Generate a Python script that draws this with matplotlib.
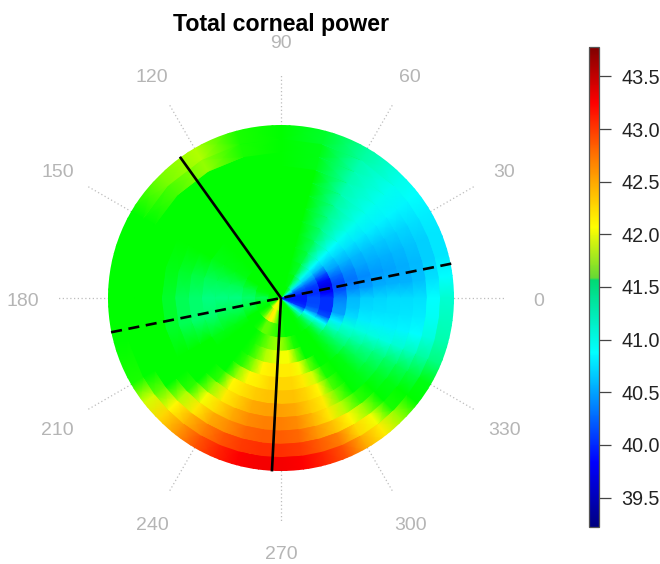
import numpy as np
import matplotlib
matplotlib.use('Agg')
import matplotlib.pyplot as plt
from matplotlib.colors import LinearSegmentedColormap, Normalize
from matplotlib.cm import ScalarMappable
from matplotlib.patches import Circle
from matplotlib.transforms import offset_copy

plt.rcParams['font.family'] = ['Liberation Sans', 'DejaVu Sans']

# chart values
angles = [0, 7.5, 15, 22.5, 30, 37.5, 45,
          60, 75, 90, 105, 120, 135, 150, 165, 180, 195, 210,
          217.5, 225, 232.5, 240, 247.5, 255, 262.5, 270, 277.5, 285,
          292.5, 300, 307.5, 315, 322.5, 330, 337.5, 345, 352.5]
ring_edges = [0, 1, 2, 3, 4, 5, 6, 7, 8, 9, 10, 11, 12, 13]
ring1 = [39.85, 39.85, 40.0, 40.2, 40.6, 41.0, 41.3,
         41.55, 41.55, 41.55, 41.55, 41.55, 41.55, 41.55, 41.55, 41.5, 41.55, 41.6,
         41.7, 41.9, 42.0, 42.05, 42.0, 41.95, 41.85, 41.7, 41.6, 41.55,
         41.55, 41.55, 41.5, 41.3, 41.0, 40.5, 40.0, 39.9, 39.85]
ring2 = [39.85, 39.85, 40.0, 40.1, 40.35, 40.7, 41.05,
         41.5, 41.55, 41.55, 41.55, 41.55, 41.55, 41.55, 41.5, 41.35, 41.5, 41.55,
         41.6, 41.7, 41.9, 42.1, 42.05, 41.9, 41.7, 41.6, 41.55, 41.55,
         41.55, 41.55, 41.5, 41.3, 41.0, 40.5, 40.0, 39.9, 39.85]
ring3 = [40.05, 39.95, 39.95, 40.05, 40.3, 40.65, 40.9,
         41.45, 41.55, 41.55, 41.55, 41.55, 41.55, 41.55, 41.4, 41.3, 41.4, 41.55,
         41.55, 41.55, 41.6, 41.75, 41.75, 41.7, 41.65, 41.6, 41.55, 41.55,
         41.55, 41.55, 41.5, 41.4, 41.15, 40.85, 40.3, 40.1, 40.05]
ring4 = [39.95, 39.75, 39.65, 39.8, 40.15, 40.55, 40.85,
         41.4, 41.55, 41.55, 41.55, 41.55, 41.55, 41.5, 41.35, 41.25, 41.35, 41.5,
         41.55, 41.55, 41.55, 41.6, 41.7, 41.8, 41.85, 41.85, 41.75, 41.6,
         41.55, 41.55, 41.55, 41.45, 41.2, 40.85, 40.1, 39.95, 39.95]
ring5 = [40.3, 40.1, 40.05, 40.2, 40.45, 40.62, 40.85,
         41.35, 41.55, 41.55, 41.55, 41.55, 41.55, 41.5, 41.35, 41.25, 41.35, 41.5,
         41.55, 41.55, 41.55, 41.6, 41.75, 41.9, 41.95, 42.0, 42.0, 41.8,
         41.55, 41.55, 41.55, 41.45, 41.3, 41.05, 40.8, 40.45, 40.4]
ring6 = [40.55, 40.35, 40.25, 40.35, 40.52, 40.68, 40.85,
         41.3, 41.55, 41.55, 41.55, 41.55, 41.55, 41.5, 41.35, 41.25, 41.3, 41.5,
         41.55, 41.55, 41.55, 41.65, 41.85, 42.05, 42.1, 42.1, 42.1, 42.0,
         41.75, 41.55, 41.55, 41.45, 41.3, 41.1, 40.95, 40.7, 40.6]
ring7 = [40.65, 40.42, 40.35, 40.45, 40.55, 40.72, 40.88,
         41.25, 41.55, 41.55, 41.55, 41.55, 41.55, 41.55, 41.4, 41.3, 41.3, 41.55,
         41.55, 41.55, 41.55, 41.85, 42.05, 42.1, 42.2, 42.2, 42.2, 42.1,
         41.95, 41.6, 41.55, 41.5, 41.35, 41.15, 40.95, 40.78, 40.7]
ring8 = [40.68, 40.5, 40.42, 40.5, 40.6, 40.75, 40.9,
         41.2, 41.55, 41.55, 41.55, 41.55, 41.55, 41.55, 41.45, 41.35, 41.35, 41.55,
         41.55, 41.55, 41.65, 42.05, 42.15, 42.25, 42.3, 42.3, 42.3, 42.2,
         42.05, 41.7, 41.55, 41.5, 41.35, 41.2, 40.95, 40.8, 40.72]
ring9 = [40.7, 40.52, 40.45, 40.52, 40.62, 40.78, 40.9,
         41.15, 41.55, 41.55, 41.55, 41.55, 41.55, 41.55, 41.5, 41.45, 41.45, 41.55,
         41.55, 41.55, 41.85, 42.1, 42.25, 42.4, 42.45, 42.45, 42.4, 42.25,
         42.1, 41.8, 41.55, 41.5, 41.4, 41.25, 40.95, 40.8, 40.73]
ring10 = [40.7, 40.52, 40.5, 40.55, 40.65, 40.8, 40.9,
          41.1, 41.55, 41.55, 41.55, 41.55, 41.55, 41.55, 41.55, 41.55, 41.55, 41.55,
          41.55, 41.65, 42.0, 42.2, 42.4, 42.55, 42.6, 42.6, 42.55, 42.35,
          42.12, 41.9, 41.65, 41.55, 41.45, 41.3, 41.0, 40.82, 40.75]
ring11 = [40.72, 40.58, 40.55, 40.6, 40.68, 40.82, 40.9,
          41.1, 41.5, 41.55, 41.55, 41.55, 41.55, 41.55, 41.55, 41.55, 41.55, 41.55,
          41.55, 41.9, 42.12, 42.4, 42.55, 42.7, 42.75, 42.75, 42.7, 42.5,
          42.3, 42.05, 41.85, 41.55, 41.5, 41.35, 41.05, 40.85, 40.77]
ring12 = [40.85, 40.72, 40.65, 40.65, 40.72, 40.82, 40.9,
          41.1, 41.5, 41.55, 41.6, 41.85, 41.7, 41.55, 41.55, 41.55, 41.55, 41.55,
          41.75, 42.05, 42.35, 42.6, 42.8, 42.9, 42.95, 42.95, 42.9, 42.75,
          42.6, 42.2, 42.0, 41.6, 41.55, 41.4, 41.15, 40.95, 40.88]
ring13 = [41.0, 40.85, 40.75, 40.75, 40.78, 40.85, 40.92,
          41.15, 41.45, 41.55, 41.6, 41.9, 41.8, 41.55, 41.55, 41.55, 41.55, 41.6,
          41.95, 42.2, 42.5, 42.8, 43.0, 43.15, 43.2, 43.2, 43.15, 43.0,
          42.8, 42.4, 42.1, 41.85, 41.55, 41.5, 41.25, 41.1, 41.05]
solid_angles = [125.6, 267.0]
dashed_angle = 11.4
spoke_angles = [0, 30, 60, 90, 120, 150, 180, 210, 240, 270, 300, 330]
bar_ticks = [39.5, 40.0, 40.5, 41.0, 41.5, 42.0, 42.5, 43.0, 43.5]
vmin, vmax = 39.22, 43.78

rings = np.array([ring1, ring2, ring3, ring4, ring5, ring6, ring7, ring8, ring9,
                  ring10, ring11, ring12, ring13])


def make_cmap(stops):
    return LinearSegmentedColormap.from_list(
        'cp', [((v - vmin) / (vmax - vmin), c) for v, c in stops], N=512)


map_cmap = make_cmap([(39.22, (0, 0, 0.5)), (39.75, (0, 0, 1)), (40.85, (0, 1, 1)),
                      (41.25, (0, 1, 0.5)), (41.55, (0, 1, 0)), (41.82, (0.5, 1, 0)),
                      (42.02, (1, 1, 0)), (42.6, (1, 0.5, 0)), (43.15, (1, 0, 0)),
                      (43.78, (0.5, 0, 0))])
bar_cmap = make_cmap([(39.22, (0, 0, 0.5)), (39.83, (0, 0, 1)), (40.88, (0, 1, 1)),
                      (41.57, (0, 0.85, 0.45)), (41.59, (0.4, 0.85, 0.2)),
                      (42.07, (1, 1, 0)), (42.7, (1, 0.5, 0)), (43.25, (1, 0, 0)),
                      (43.78, (0.5, 0, 0))])
norm = Normalize(vmin, vmax)

W, H = 660, 564
cx, cy, half = 281, 298, 266  # pixels
radius_px = 173.0
rmax = ring_edges[-1] * half / radius_px

fig = plt.figure(figsize=(W / 100, H / 100), dpi=100)
ax = fig.add_axes([(cx - half) / W, (H - cy - half) / H, 2 * half / W, 2 * half / H],
                  projection='polar')
ax.set_ylim(0, rmax)
ax.set_axis_off()

# rings are flat in r and smooth in angle: double the edges, wrap the angle
th = np.radians(angles + [360])
edges = np.array(ring_edges, dtype=float)
r = np.column_stack([edges[:-1], edges[1:]]).ravel()
r[-1] += 0.3
vals = np.repeat(rings, 2, axis=0)
vals = np.column_stack([vals, vals[:, 0]])
T, R = np.meshgrid(th, r)
mesh = ax.pcolormesh(T, R, vals, shading='gouraud', cmap=map_cmap, norm=norm, zorder=2)
mesh.set_clip_path(Circle((0.5, 0.5), 0.5 * radius_px / half, transform=ax.transAxes))

label_trans = offset_copy(ax.transData, fig=fig, y=-2.5, units='points')
for a in spoke_angles:
    t = np.radians(a)
    ax.plot([t, t], [0, 16.75], color='#bdbdbd', lw=0.9, ls=(0, (1, 2)), zorder=1,
            clip_on=False)
    # 270 sits right at the bottom edge, pull it in a bit so it isn't cut
    label_r = 19.05 if a == 270 else 19.4
    ax.text(t, label_r, str(a), color='#b5b5b5', fontsize=14, ha='center', va='center',
            clip_on=False, transform=label_trans)

for a in solid_angles:
    ax.plot([0, np.radians(a)], [0, 13.05], color='black', lw=1.9, zorder=3,
            solid_capstyle='butt')
ax.plot([np.radians(dashed_angle), np.radians(dashed_angle + 180)], [13.05, 13.05],
        color='black', lw=1.9, ls=(0, (4.2, 2.5)), zorder=3)

fig.text(281 / W, 1 - 24 / H, 'Total corneal power', fontsize=16.7, fontweight='bold',
         ha='center', va='center')

cax = fig.add_axes([589 / W, (H - 527) / H, 9.5 / W, 480 / H])
cb = fig.colorbar(ScalarMappable(norm=norm, cmap=bar_cmap), cax=cax, ticks=bar_ticks)
cb.ax.set_yticklabels(['%.1f' % t for t in bar_ticks])
cb.ax.tick_params(length=8.6, width=0.9, color='#444444', labelsize=14.2, pad=7.8,
                  labelcolor='#222222')
cb.outline.set_edgecolor('#555555')
cb.outline.set_linewidth(0.9)

fig.savefig('out.png', dpi=100)
